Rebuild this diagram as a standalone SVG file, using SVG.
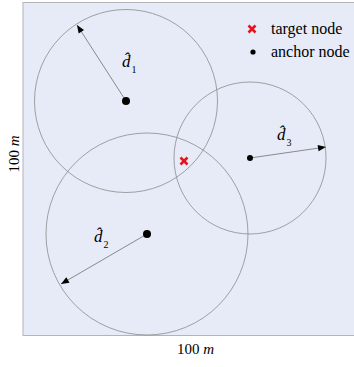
<svg xmlns="http://www.w3.org/2000/svg" width="354" height="367" viewBox="0 0 354 367" font-family="Liberation Serif, Times New Roman, DejaVu Serif, serif">
<defs>
<style>
.c{fill:none;stroke:#8c8c8c;stroke-width:0.8}
.a{stroke:#707070;stroke-width:0.8;fill:none;marker-end:url(#ah)}
.dot{fill:#000}
</style>
<marker id="ah" viewBox="0 0 10 10" refX="10" refY="5" markerWidth="10" markerHeight="8" markerUnits="userSpaceOnUse" orient="auto">
<path d="M0,1 L10,5 L0,9 Z" fill="#000"/>
</marker>
</defs>
<rect x="23" y="2.5" width="332" height="333" fill="#e6ebf7" stroke="#b4b4b8" stroke-width="1"/>
<g id="connectors">
<line class="a" x1="126" y1="101" x2="77" y2="25"/>
<line class="a" x1="147" y1="234" x2="61" y2="284"/>
<line class="a" x1="250" y1="158" x2="326" y2="147"/>
</g>
<g id="circle1"><circle class="c" cx="126" cy="101" r="91.5"/></g>
<g id="circle2"><circle class="c" cx="147" cy="234" r="101"/></g>
<g id="circle3"><circle class="c" cx="250" cy="158" r="76"/></g>
<g id="anchor1"><circle class="dot" cx="126" cy="101" r="4"/></g>
<g id="anchor2"><circle class="dot" cx="147" cy="234" r="4"/></g>
<g id="anchor3"><circle class="dot" cx="250" cy="158" r="3"/></g>
<g id="target"><path d="M180.5,157.5 L187.5,164.5 M187.5,157.5 L180.5,164.5" stroke="#e8141c" stroke-width="2.6"/></g>
<g id="label-d1"><text x="122" y="67" font-size="17" font-family="Liberation Serif, Times New Roman, serif"><tspan font-style="italic">d̂</tspan><tspan dx="1" dy="6" font-size="10">1</tspan></text></g>
<g id="label-d2"><text x="94" y="242" font-size="17" font-family="Liberation Serif, Times New Roman, serif"><tspan font-style="italic">d̂</tspan><tspan dx="1" dy="6" font-size="10">2</tspan></text></g>
<g id="label-d3"><text x="277" y="140" font-size="17" font-family="Liberation Serif, Times New Roman, serif"><tspan font-style="italic">d̂</tspan><tspan dx="1" dy="6" font-size="10">3</tspan></text></g>
<g id="legend">
<path d="M248.5,25.5 L255.5,32.5 M255.5,25.5 L248.5,32.5" stroke="#e8141c" stroke-width="2.6"/>
<text x="271" y="34" font-size="16" font-family="Liberation Serif, Times New Roman, serif">target node</text>
<circle class="dot" cx="253" cy="52" r="2.6"/>
<text x="271" y="57" font-size="16" font-family="Liberation Serif, Times New Roman, serif">anchor node</text>
</g>
<text x="177" y="354" font-size="15" font-family="Liberation Serif, Times New Roman, serif">100 <tspan font-style="italic">m</tspan></text>
<text transform="translate(19,154) rotate(-90)" text-anchor="middle" font-size="15" font-family="Liberation Serif, Times New Roman, serif">100 <tspan font-style="italic">m</tspan></text>
</svg>
